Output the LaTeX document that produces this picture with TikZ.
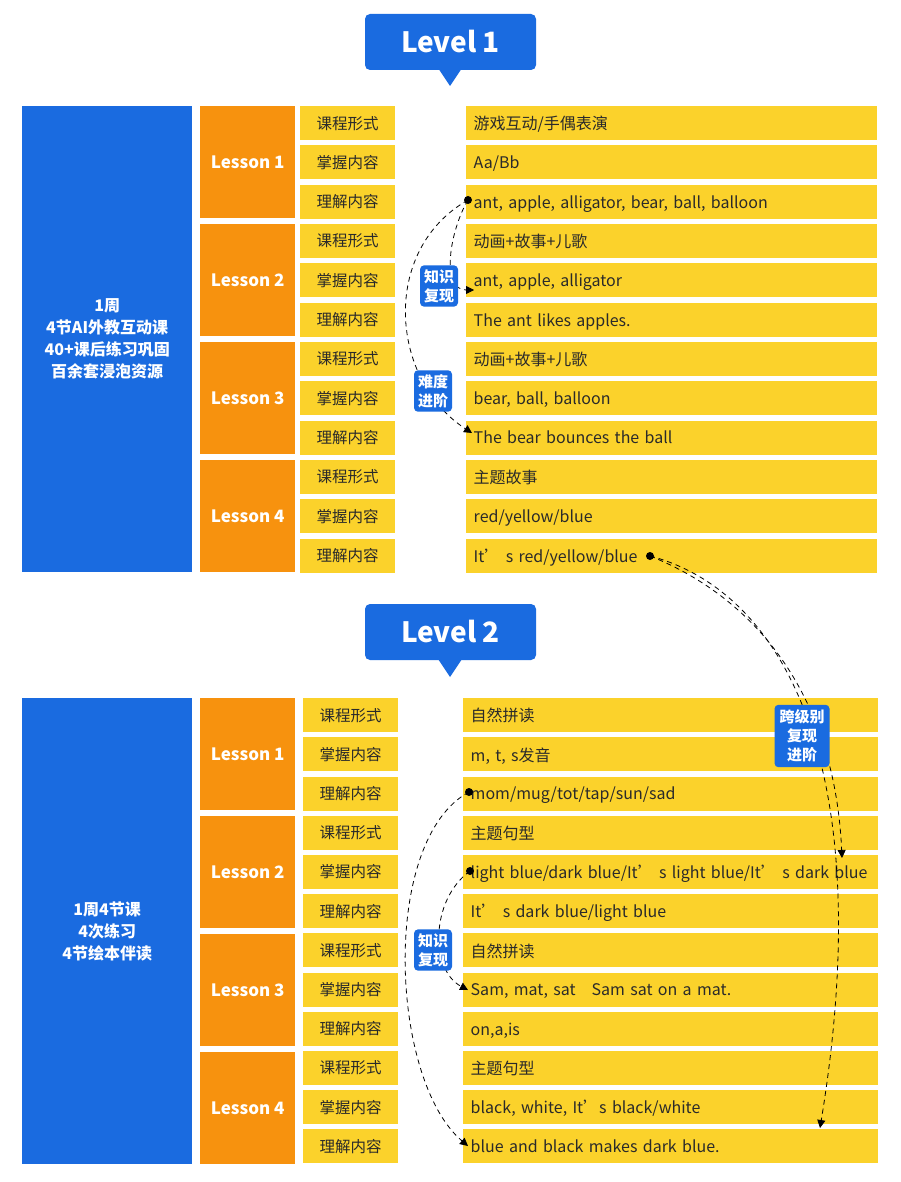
\documentclass[tikz,border=0pt]{standalone}
\usepackage{fontspec}
\setmainfont{Noto Sans CJK SC}
\usetikzlibrary{arrows.meta,calc}
\definecolor{bblue}{HTML}{1A6BE0}
\definecolor{oorange}{HTML}{F7920E}
\definecolor{yyel}{HTML}{FBD22B}
\definecolor{ttx}{HTML}{2A2A2A}
\tikzset{
  bluebox/.style={fill=bblue,text=white,font=\fontsize{16}{22}\selectfont\bfseries,align=center,inner sep=0,anchor=north west},
  lessonbox/.style={fill=oorange,text=white,font=\fontsize{17}{20}\selectfont\bfseries,inner sep=0,anchor=north west,minimum width=95pt},
  labcell/.style={fill=yyel,text=ttx,font=\fontsize{15.5}{18}\selectfont,inner sep=0,anchor=north west,minimum width=95pt,minimum height=34pt},
  txtcell/.style={fill=yyel,text=ttx,font=\fontsize{16}{18}\selectfont,inner sep=0,anchor=north west,minimum height=34pt,text depth=0pt},
  tag/.style={fill=bblue,text=white,rounded corners=4pt,font=\fontsize{15}{19}\selectfont\bfseries,align=center,inner sep=4pt},
  lvl/.style={fill=bblue,text=white,rounded corners=5pt,font=\fontsize{28}{30}\selectfont\bfseries,minimum width=171pt,minimum height=56pt,inner sep=0},
  dl/.style={black,thick,dash pattern=on 5pt off 4pt},
  arr/.style={dl,-{Triangle[length=8pt,width=8pt]}},
}
\begin{document}
\begin{tikzpicture}[x=1pt,y=-1pt]
\useasboundingbox (0,0) rectangle (900,1182);
\fill[white] (0,0) rectangle (900,1182);
% Level titles
\fill[bblue] (438,68) -- (450,86) -- (462,68) -- cycle;
\node[lvl] (L1) at (450.5,42) {Level 1};
\fill[bblue] (438,659) -- (450,677) -- (462,659) -- cycle;
\node[lvl] (L2) at (450.5,632) {Level 2};
% Level 1
\node[bluebox,minimum width=170pt,minimum height=466pt] (A1) at (22,106) {1周\\4节AI外教互动课\\40+课后练习巩固\\百余套浸泡资源};
\foreach \i in {0,...,3}{
  \node[lessonbox,minimum height=112pt] (A1L\i) at (200,{106+\i*118}) {Lesson \the\numexpr\i+1\relax};
}
\foreach[count=\j from 0] \t in {游戏互动/手偶表演,Aa/Bb,{ant, apple, alligator, bear, ball, balloon},动画+故事+儿歌,{ant, apple, alligator},The ant likes apples.,动画+故事+儿歌,{bear, ball, balloon},The bear bounces the ball,主题故事,red/yellow/blue,It’ s red/yellow/blue}{
  \pgfmathsetmacro\yy{106+\j*39.3}
  \pgfmathtruncatemacro\k{mod(\j,3)}
  \node[labcell] (A1c\j) at (300,\yy) {\ifcase\k 课程形式\or 掌握内容\or 理解内容\fi};
  \node[txtcell,minimum width=411pt,text width=396pt,align=left] (A1t\j) at (466,\yy) {\t};
}
% Level 2
\node[bluebox,minimum width=170pt,minimum height=466pt] (A2) at (22,698) {1周4节课\\4次练习\\4节绘本伴读};
\foreach \i in {0,...,3}{
  \node[lessonbox,minimum height=112pt] (A2L\i) at (200,{698+\i*118}) {Lesson \the\numexpr\i+1\relax};
}
\foreach[count=\j from 0] \t in {自然拼读,{m, t, s发音},mom/mug/tot/tap/sun/sad,主题句型,light blue/dark blue/It’ s light blue/It’ s dark blue,It’ s dark blue/light blue,自然拼读,{Sam, mat, sat\quad Sam sat on a mat.},{on,a,is},主题句型,{black, white, It's black/white},blue and black makes dark blue.}{
  \pgfmathsetmacro\yy{698+\j*39.2}
  \pgfmathtruncatemacro\k{mod(\j,3)}
  \node[labcell] (A2c\j) at (303,\yy) {\ifcase\k 课程形式\or 掌握内容\or 理解内容\fi};
  \node[txtcell,minimum width=415pt,text width=400pt,align=left] (A2t\j) at (463,\yy) {\t};
}
% Level 1 arrows
\coordinate (d1) at (468,200);
\coordinate (e1) at (474,290);
\coordinate (e2) at (472,433);
\draw[arr] (d1) .. controls (450,230) and (440,290) .. (e1);
\draw[arr] (d1) .. controls (380,250) and (390,380) .. (e2);
\fill (d1) circle (4pt);
\node[tag] (T1) at (439,286) {知识\\复现};
\node[tag] (T2) at (433,391) {难度\\进阶};
% Level 2 arrows
\coordinate (d2) at (469,792);
\coordinate (d3) at (470,871);
\coordinate (e3) at (468,990);
\coordinate (e4) at (468,1146);
\draw[arr] (d3) .. controls (430,900) and (430,970) .. (e3);
\draw[arr] (d2) .. controls (380,840) and (390,1080) .. (e4);
\fill (d2) circle (4pt);
\fill (d3) circle (4pt);
\node[tag] (T3) at (433,950) {知识\\复现};
% Cross-level
\coordinate (d4) at (650,556);
\coordinate (e5) at (842,858);
\coordinate (e6) at (820,1128);
\draw[arr] (d4) .. controls (760,600) and (835,700) .. (e5);
\draw[arr] (d4) .. controls (780,590) and (880,760) .. (e6);
\fill (d4) circle (4pt);
\node[tag,inner sep=5pt] (T4) at (802,736) {跨级别\\复现\\进阶};
\end{tikzpicture}
\end{document}
